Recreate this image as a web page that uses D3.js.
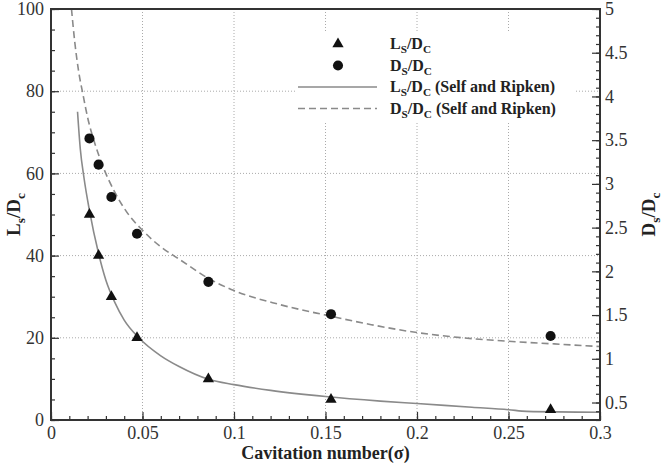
<!DOCTYPE html>
<html>
<head>
<meta charset="utf-8">
<script src="https://cdn.jsdelivr.net/npm/d3@7"></script>
<style>
  body { margin: 0; background: #fff; }
  text { font-family: 'Liberation Serif', 'Times New Roman', serif; }
</style>
</head>
<body>
<div id="chart"></div>
<script>
// measured points
const sigma = [0.021, 0.026, 0.033, 0.047, 0.086, 0.153, 0.273]
const lsDc = [50, 40, 30, 20, 10, 5, 2.5]
const dsDc = [3.52, 3.22, 2.85, 2.43, 1.88, 1.51, 1.26]

// Self and Ripken curves
const lsCurveSigma = [0.0145, 0.016, 0.018, 0.021, 0.026, 0.03, 0.035, 0.04, 0.048, 0.06, 0.07, 0.086, 0.1, 0.12, 0.15, 0.18, 0.2, 0.23, 0.25, 0.26, 0.3]
const lsCurve = [75, 66, 59, 51, 40.5, 34, 28.5, 24.3, 20, 15.6, 13, 9.9, 8.6, 7.2, 5.7, 4.6, 4, 3.1, 2.5, 2.1, 1.9]
const dsCurveSigma = [0.0112, 0.013, 0.015, 0.0175, 0.02, 0.024, 0.028, 0.035, 0.042, 0.05, 0.06, 0.07, 0.086, 0.1, 0.125, 0.15, 0.175, 0.2, 0.225, 0.25, 0.275, 0.3]
const dsCurve = [5.0, 4.62, 4.3, 4.02, 3.76, 3.46, 3.22, 2.9, 2.66, 2.47, 2.28, 2.14, 1.92, 1.78, 1.62, 1.5, 1.39, 1.3, 1.24, 1.2, 1.17, 1.14]

const xTicks = [0, 0.05, 0.1, 0.15, 0.2, 0.25, 0.3]
const leftTicks = [0, 20, 40, 60, 80, 100]
const rightTicks = [0.5, 1, 1.5, 2, 2.5, 3, 3.5, 4, 4.5, 5]

const margin = { top: 9, left: 51, right: 63, bottom: 44 }
const width = 663 - margin.left - margin.right
const height = 464 - margin.top - margin.bottom

const svg = d3
  .select('#chart')
  .append('svg')
  .attr('width', width + margin.left + margin.right)
  .attr('height', height + margin.top + margin.bottom)
  .append('g')
  .attr('transform', 'translate(' + margin.left + ',' + margin.top + ')')

const x = d3.scaleLinear().domain([0, 0.3]).range([0, width])
const yLeft = d3.scaleLinear().domain([0, 100]).range([height, 0])
const yRight = d3.scaleLinear().domain([0.3, 5]).range([height, 0])

svg.append('clipPath').attr('id', 'clip')
  .append('rect').attr('width', width).attr('height', height)

// grid
svg.selectAll('.vgrid')
  .data(xTicks.slice(1, -1))
  .enter()
  .append('line')
  .attr('x1', d => x(d)).attr('x2', d => x(d))
  .attr('y1', 0).attr('y2', height)
  .attr('stroke', '#aaa').attr('stroke-dasharray', '1,2')

svg.selectAll('.hgrid')
  .data(leftTicks.slice(1, -1))
  .enter()
  .append('line')
  .attr('x1', 0).attr('x2', width)
  .attr('y1', d => yLeft(d)).attr('y2', d => yLeft(d))
  .attr('stroke', '#aaa').attr('stroke-dasharray', '1,2')

// legend background so the grid goes under it
svg.append('rect')
  .attr('x', 245).attr('y', 22)
  .attr('width', 278).attr('height', 90)
  .attr('fill', '#fff')

// curves
const lsLine = d3.line()
  .x(d => x(d[0])).y(d => yLeft(d[1]))
  .curve(d3.curveMonotoneX)
const dsLine = d3.line()
  .x(d => x(d[0])).y(d => yRight(d[1]))
  .curve(d3.curveMonotoneX)

svg.append('path')
  .datum(d3.zip(lsCurveSigma, lsCurve))
  .attr('d', lsLine)
  .attr('fill', 'none')
  .attr('stroke', '#8a8a8a')
  .attr('stroke-width', 1.6)
  .attr('clip-path', 'url(#clip)')

svg.append('path')
  .datum(d3.zip(dsCurveSigma, dsCurve))
  .attr('d', dsLine)
  .attr('fill', 'none')
  .attr('stroke', '#8a8a8a')
  .attr('stroke-width', 1.6)
  .attr('stroke-dasharray', '7,4')
  .attr('clip-path', 'url(#clip)')

// markers
const tri = d3.symbol().type(d3.symbolTriangle).size(55)
const circ = d3.symbol().type(d3.symbolCircle).size(80)

svg.selectAll('.tri')
  .data(d3.zip(sigma, lsDc))
  .enter()
  .append('path')
  .attr('d', tri)
  .attr('transform', d => `translate(${x(d[0])},${yLeft(d[1])})`)
  .attr('fill', '#111')

svg.selectAll('.circ')
  .data(d3.zip(sigma, dsDc))
  .enter()
  .append('path')
  .attr('d', circ)
  .attr('transform', d => `translate(${x(d[0])},${yRight(d[1])})`)
  .attr('fill', '#111')

// axes, ticks pointing inward
function styleAxis(g) {
  g.select('.domain').remove()
  g.selectAll('.tick line').attr('stroke', '#333').attr('stroke-width', 1.2)
  g.selectAll('.tick text')
    .attr('font-size', 18)
    .attr('fill', '#333')
    .style('font-family', "'Liberation Serif', serif")
}

svg.append('g')
  .attr('transform', `translate(0,${height})`)
  .call(d3.axisBottom(x).tickValues(d3.range(0, 0.3001, 0.01)).tickSize(-4).tickFormat(''))
  .call(styleAxis)
svg.append('g')
  .attr('transform', `translate(0,${height})`)
  .call(d3.axisBottom(x).tickValues(xTicks).tickSize(-8).tickPadding(6).tickFormat(d => d))
  .call(styleAxis)

svg.append('g')
  .call(d3.axisLeft(yLeft).tickValues(d3.range(0, 101, 5)).tickSize(-4).tickFormat(''))
  .call(styleAxis)
svg.append('g')
  .call(d3.axisLeft(yLeft).tickValues(leftTicks).tickSize(-8).tickPadding(7))
  .call(styleAxis)

svg.append('g')
  .attr('transform', `translate(${width},0)`)
  .call(d3.axisRight(yRight).tickValues(d3.range(3, 51).map(d => d / 10)).tickSize(-4).tickFormat(''))
  .call(styleAxis)
svg.append('g')
  .attr('transform', `translate(${width},0)`)
  .call(d3.axisRight(yRight).tickValues(rightTicks).tickSize(-8).tickPadding(5).tickFormat(d => d))
  .call(styleAxis)

// frame
svg.append('rect')
  .attr('width', width).attr('height', height)
  .attr('fill', 'none')
  .attr('stroke', '#333')
  .attr('stroke-width', 2)

// label helper with subscripts
function ratioLabel(sel, a, sa, b, sb, rest, size) {
  sel.append('tspan').text(a)
  sel.append('tspan').text(sa).attr('font-size', size * 0.7).attr('dy', size * 0.25)
  sel.append('tspan').text('/' + b).attr('dy', -size * 0.25)
  sel.append('tspan').text(sb).attr('font-size', size * 0.7).attr('dy', size * 0.25)
  if (rest) sel.append('tspan').text(rest).attr('dy', -size * 0.25)
}

// axis titles
svg.append('text')
  .attr('x', width / 2)
  .attr('y', height + 39)
  .attr('text-anchor', 'middle')
  .attr('font-size', 18)
  .attr('font-weight', 'bold')
  .attr('fill', '#222')
  .text('Cavitation number(σ)')

svg.append('text')
  .attr('transform', `translate(${-31},${height / 2}) rotate(-90)`)
  .attr('text-anchor', 'middle')
  .attr('font-size', 19)
  .attr('font-weight', 'bold')
  .attr('fill', '#222')
  .call(ratioLabel, 'L', 's', 'D', 'c', null, 19)

svg.append('text')
  .attr('transform', `translate(${width + 55},${height / 2}) rotate(-90)`)
  .attr('text-anchor', 'middle')
  .attr('font-size', 19)
  .attr('font-weight', 'bold')
  .attr('fill', '#222')
  .call(ratioLabel, 'D', 's', 'D', 'c', null, 19)

// legend
const legendRows = [
  { mark: 'tri', a: 'L', rest: null },
  { mark: 'circ', a: 'D', rest: null },
  { mark: 'solid', a: 'L', rest: ' (Self and Ripken)' },
  { mark: 'dash', a: 'D', rest: ' (Self and Ripken)' }
]
const legend = svg.append('g').attr('transform', 'translate(247,35)')

legendRows.forEach((row, i) => {
  const cy = i * 21.5
  if (row.mark === 'tri') {
    legend.append('path').attr('d', tri).attr('transform', `translate(40,${cy})`).attr('fill', '#111')
  } else if (row.mark === 'circ') {
    legend.append('path').attr('d', circ).attr('transform', `translate(40,${cy})`).attr('fill', '#111')
  } else {
    legend.append('line')
      .attr('x1', 0).attr('x2', 79).attr('y1', cy).attr('y2', cy)
      .attr('stroke', '#8a8a8a').attr('stroke-width', 1.6)
      .attr('stroke-dasharray', row.mark === 'dash' ? '7,4' : null)
  }
  legend.append('text')
    .attr('x', 92)
    .attr('y', cy + 5)
    .attr('font-size', 16)
    .attr('font-weight', 'bold')
    .attr('fill', '#222')
    .call(ratioLabel, row.a, 'S', 'D', 'C', row.rest, 16)
})
</script>
</body>
</html>
